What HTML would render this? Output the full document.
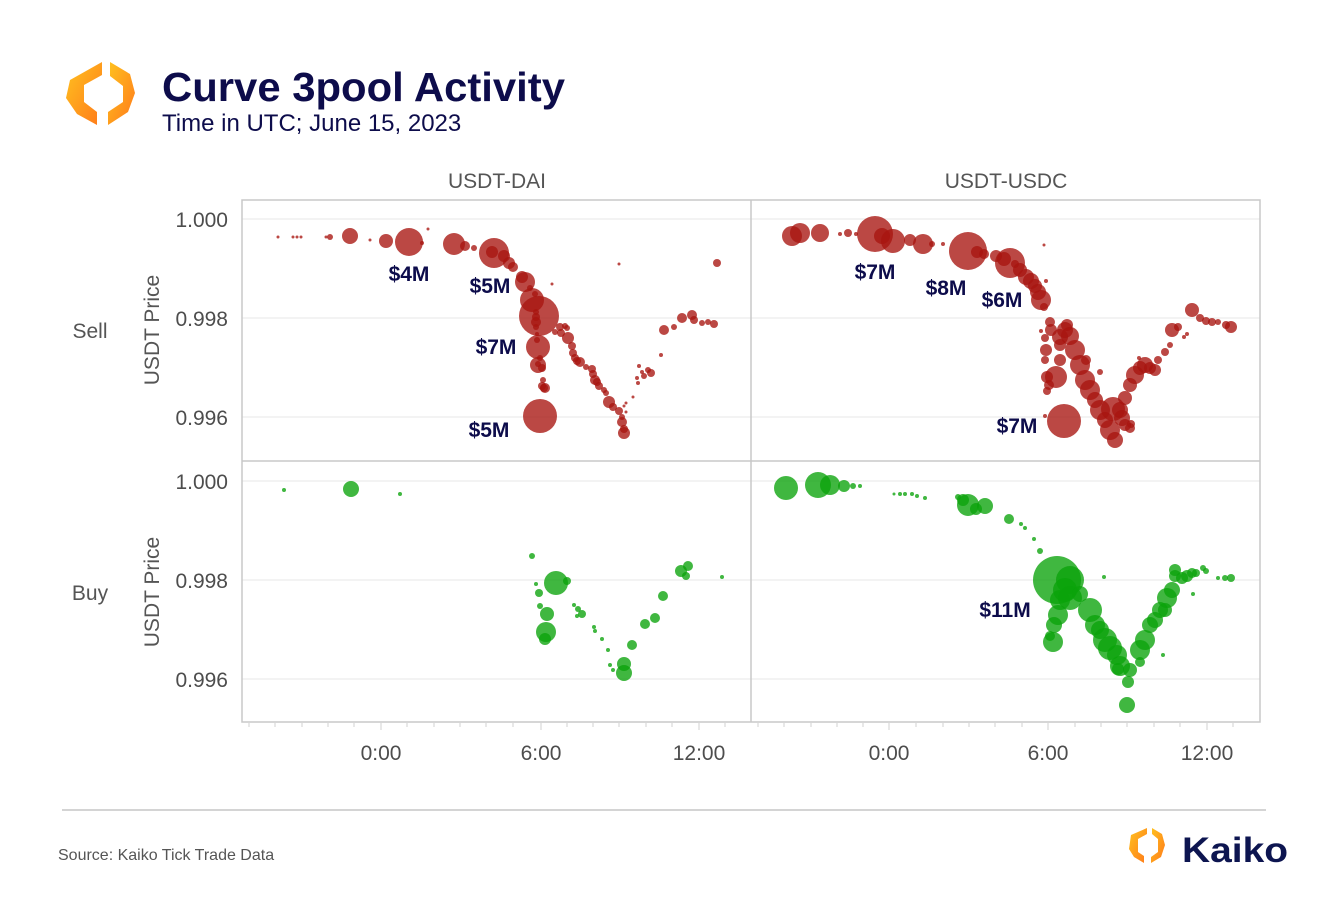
<!DOCTYPE html>
<html><head><meta charset="utf-8"><style>
html,body{margin:0;padding:0;background:#fff;}
svg{display:block;font-family:"Liberation Sans",sans-serif;}
</style></head><body>
<svg width="1320" height="920" viewBox="0 0 1320 920" xmlns="http://www.w3.org/2000/svg">
<defs>
<linearGradient id="lg" x1="0" y1="0" x2="1" y2="1"><stop offset="0" stop-color="#ffc21f"/><stop offset="1" stop-color="#ff7a1a"/></linearGradient>
</defs>
<!-- logo -->
<polygon points="102,62 102,75 84,85 84,102 97,112 97,125 77,114 66,98 70,80" fill="url(#lg)"/>
<polygon points="110,62 130,74 135,93 128,112 108,125 108,112 123,102 123,86 110,76" fill="url(#lg)"/>
<text x="162" y="101" font-size="41" font-weight="bold" fill="#0d0c4b" textLength="403" lengthAdjust="spacingAndGlyphs">Curve 3pool Activity</text>
<text x="162" y="131" font-size="24" fill="#0d0c4b">Time in UTC; June 15, 2023</text>

<!-- strip labels -->
<text x="497" y="188" font-size="21" fill="#555" text-anchor="middle">USDT-DAI</text>
<text x="1006" y="188" font-size="21" fill="#555" text-anchor="middle">USDT-USDC</text>
<text x="90" y="338" font-size="21" fill="#555" text-anchor="middle">Sell</text>
<text x="90" y="600" font-size="21" fill="#555" text-anchor="middle">Buy</text>
<text transform="translate(159,330) rotate(-90)" font-size="21" fill="#555" text-anchor="middle">USDT Price</text>
<text transform="translate(159,592) rotate(-90)" font-size="21" fill="#555" text-anchor="middle">USDT Price</text>

<!-- y tick labels -->
<g font-size="21" fill="#4d4d4d" text-anchor="end">
<text x="228" y="227">1.000</text><text x="228" y="326">0.998</text><text x="228" y="425">0.996</text>
<text x="228" y="489">1.000</text><text x="228" y="588">0.998</text><text x="228" y="687">0.996</text>
</g>
<!-- gridlines -->
<g stroke="#ececec" stroke-width="1.2">
<line x1="242" y1="219" x2="1260" y2="219"/><line x1="242" y1="318" x2="1260" y2="318"/><line x1="242" y1="417" x2="1260" y2="417"/>
<line x1="242" y1="481" x2="1260" y2="481"/><line x1="242" y1="580" x2="1260" y2="580"/><line x1="242" y1="679" x2="1260" y2="679"/>
</g>
<!-- x ticks -->
<g stroke="#d0d0d0" stroke-width="1">
<line x1="249" y1="723" x2="249" y2="727"/><line x1="275" y1="723" x2="275" y2="727"/><line x1="302" y1="723" x2="302" y2="727"/><line x1="328" y1="723" x2="328" y2="727"/><line x1="354" y1="723" x2="354" y2="727"/>
<line x1="407" y1="723" x2="407" y2="727"/><line x1="434" y1="723" x2="434" y2="727"/><line x1="460" y1="723" x2="460" y2="727"/><line x1="486" y1="723" x2="486" y2="727"/><line x1="513" y1="723" x2="513" y2="727"/>
<line x1="567" y1="723" x2="567" y2="727"/><line x1="593" y1="723" x2="593" y2="727"/><line x1="619" y1="723" x2="619" y2="727"/><line x1="646" y1="723" x2="646" y2="727"/><line x1="672" y1="723" x2="672" y2="727"/>
<line x1="725" y1="723" x2="725" y2="727"/>
<line x1="758" y1="723" x2="758" y2="727"/><line x1="784" y1="723" x2="784" y2="727"/><line x1="811" y1="723" x2="811" y2="727"/><line x1="837" y1="723" x2="837" y2="727"/><line x1="863" y1="723" x2="863" y2="727"/>
<line x1="916" y1="723" x2="916" y2="727"/><line x1="943" y1="723" x2="943" y2="727"/><line x1="969" y1="723" x2="969" y2="727"/><line x1="995" y1="723" x2="995" y2="727"/><line x1="1022" y1="723" x2="1022" y2="727"/>
<line x1="1075" y1="723" x2="1075" y2="727"/><line x1="1101" y1="723" x2="1101" y2="727"/><line x1="1127" y1="723" x2="1127" y2="727"/><line x1="1154" y1="723" x2="1154" y2="727"/><line x1="1180" y1="723" x2="1180" y2="727"/>
<line x1="1233" y1="723" x2="1233" y2="727"/>
<line x1="381" y1="723" x2="381" y2="730"/><line x1="541" y1="723" x2="541" y2="730"/><line x1="699" y1="723" x2="699" y2="730"/>
<line x1="889" y1="723" x2="889" y2="730"/><line x1="1048" y1="723" x2="1048" y2="730"/><line x1="1207" y1="723" x2="1207" y2="730"/>
</g>
<g font-size="21" fill="#4d4d4d" text-anchor="middle">
<text x="381" y="760">0:00</text><text x="541" y="760">6:00</text><text x="699" y="760">12:00</text>
<text x="889" y="760">0:00</text><text x="1048" y="760">6:00</text><text x="1207" y="760">12:00</text>
</g>

<!-- red points -->
<g fill="#a8150f" fill-opacity="0.78">
<circle cx="278" cy="237" r="1.5"/><circle cx="293" cy="237" r="1.5"/><circle cx="297" cy="237" r="1.5"/><circle cx="301" cy="237" r="1.5"/><circle cx="326" cy="237" r="1.5"/><circle cx="330" cy="237" r="3"/><circle cx="350" cy="236" r="8"/><circle cx="370" cy="240" r="1.5"/><circle cx="386" cy="241" r="7"/><circle cx="409" cy="242" r="14"/><circle cx="428" cy="229" r="1.5"/><circle cx="422" cy="243" r="2"/><circle cx="454" cy="244" r="11"/><circle cx="465" cy="246" r="5"/><circle cx="474" cy="248" r="3"/><circle cx="494" cy="253" r="15"/><circle cx="492" cy="252" r="6"/><circle cx="504" cy="256" r="6"/><circle cx="509" cy="263" r="6"/><circle cx="513" cy="267" r="5"/><circle cx="522" cy="277" r="6"/><circle cx="525" cy="282" r="10"/><circle cx="530" cy="288" r="3"/><circle cx="532" cy="300" r="12"/><circle cx="539" cy="316" r="20"/><circle cx="536" cy="317" r="4"/><circle cx="535" cy="294" r="3"/><circle cx="536" cy="312" r="3"/><circle cx="536" cy="322" r="5"/><circle cx="536" cy="327" r="3"/><circle cx="537" cy="334" r="2"/><circle cx="538" cy="347" r="12"/><circle cx="537" cy="340" r="3"/><circle cx="538" cy="364" r="3"/><circle cx="540" cy="358" r="3"/><circle cx="538" cy="365" r="8"/><circle cx="542" cy="368" r="4"/><circle cx="543" cy="380" r="3"/><circle cx="542" cy="386" r="4"/><circle cx="544" cy="388" r="4"/><circle cx="545" cy="388" r="5"/><circle cx="540" cy="416" r="17"/><circle cx="561" cy="333" r="4"/><circle cx="560" cy="327" r="4"/><circle cx="565" cy="326" r="3"/><circle cx="567" cy="328" r="3"/><circle cx="555" cy="332" r="3"/><circle cx="568" cy="338" r="6"/><circle cx="572" cy="346" r="4"/><circle cx="573" cy="353" r="4"/><circle cx="575" cy="358" r="4"/><circle cx="577" cy="361" r="4"/><circle cx="580" cy="362" r="5"/><circle cx="586" cy="367" r="3"/><circle cx="592" cy="369" r="4"/><circle cx="593" cy="374" r="4"/><circle cx="595" cy="380" r="5"/><circle cx="597" cy="382" r="4"/><circle cx="599" cy="386" r="4"/><circle cx="604" cy="390" r="3"/><circle cx="606" cy="393" r="3"/><circle cx="609" cy="402" r="6"/><circle cx="613" cy="407" r="4"/><circle cx="619" cy="411" r="4"/><circle cx="622" cy="417" r="3"/><circle cx="622" cy="422" r="5"/><circle cx="624" cy="429" r="4"/><circle cx="624" cy="433" r="6"/><circle cx="626" cy="403" r="1.5"/><circle cx="626" cy="412" r="1.5"/><circle cx="624" cy="406" r="1.5"/><circle cx="633" cy="397" r="1.5"/><circle cx="637" cy="378" r="2"/><circle cx="638" cy="383" r="2"/><circle cx="639" cy="366" r="2"/><circle cx="642" cy="372" r="2"/><circle cx="644" cy="376" r="3"/><circle cx="648" cy="370" r="3"/><circle cx="651" cy="373" r="4"/><circle cx="661" cy="355" r="2"/><circle cx="664" cy="330" r="5"/><circle cx="674" cy="327" r="3"/><circle cx="682" cy="318" r="5"/><circle cx="692" cy="315" r="5"/><circle cx="694" cy="320" r="4"/><circle cx="702" cy="323" r="3"/><circle cx="708" cy="322" r="3"/><circle cx="714" cy="324" r="4"/><circle cx="619" cy="264" r="1.5"/><circle cx="552" cy="284" r="1.5"/><circle cx="717" cy="263" r="4"/>
<circle cx="792" cy="236" r="10"/><circle cx="800" cy="233" r="10"/><circle cx="820" cy="233" r="9"/><circle cx="840" cy="234" r="2"/><circle cx="848" cy="233" r="4"/><circle cx="856" cy="234" r="2"/><circle cx="875" cy="234" r="18"/><circle cx="882" cy="236" r="8"/><circle cx="893" cy="241" r="12"/><circle cx="910" cy="240" r="6"/><circle cx="923" cy="244" r="10"/><circle cx="932" cy="244" r="3"/><circle cx="943" cy="244" r="2"/><circle cx="968" cy="251" r="19"/><circle cx="977" cy="252" r="6"/><circle cx="984" cy="254" r="5"/><circle cx="996" cy="256" r="6"/><circle cx="1004" cy="259" r="7"/><circle cx="1010" cy="263" r="15"/><circle cx="1015" cy="264" r="4"/><circle cx="1020" cy="270" r="7"/><circle cx="1026" cy="277" r="8"/><circle cx="1031" cy="281" r="8"/><circle cx="1035" cy="286" r="7"/><circle cx="1038" cy="292" r="8"/><circle cx="1041" cy="300" r="10"/><circle cx="1044" cy="307" r="4"/><circle cx="1044" cy="245" r="1.5"/><circle cx="1046" cy="281" r="2"/><circle cx="1041" cy="331" r="2"/><circle cx="1050" cy="322" r="5"/><circle cx="1051" cy="330" r="6"/><circle cx="1045" cy="338" r="4"/><circle cx="1046" cy="350" r="6"/><circle cx="1045" cy="360" r="4"/><circle cx="1047" cy="377" r="6"/><circle cx="1049" cy="385" r="5"/><circle cx="1047" cy="391" r="4"/><circle cx="1056" cy="377" r="11"/><circle cx="1060" cy="360" r="6"/><circle cx="1060" cy="345" r="6"/><circle cx="1060" cy="337" r="8"/><circle cx="1065" cy="330" r="8"/><circle cx="1067" cy="325" r="6"/><circle cx="1070" cy="336" r="9"/><circle cx="1075" cy="350" r="10"/><circle cx="1080" cy="365" r="10"/><circle cx="1085" cy="380" r="10"/><circle cx="1090" cy="390" r="10"/><circle cx="1095" cy="400" r="8"/><circle cx="1100" cy="410" r="10"/><circle cx="1105" cy="420" r="8"/><circle cx="1110" cy="430" r="10"/><circle cx="1115" cy="440" r="8"/><circle cx="1120" cy="410" r="8"/><circle cx="1122" cy="418" r="8"/><circle cx="1125" cy="425" r="6"/><circle cx="1130" cy="428" r="5"/><circle cx="1131" cy="424" r="4"/><circle cx="1100" cy="372" r="3"/><circle cx="1113" cy="409" r="12"/><circle cx="1125" cy="398" r="7"/><circle cx="1130" cy="385" r="7"/><circle cx="1135" cy="375" r="9"/><circle cx="1140" cy="368" r="7"/><circle cx="1145" cy="365" r="8"/><circle cx="1150" cy="368" r="6"/><circle cx="1155" cy="370" r="6"/><circle cx="1158" cy="360" r="4"/><circle cx="1165" cy="352" r="4"/><circle cx="1170" cy="345" r="3"/><circle cx="1172" cy="330" r="7"/><circle cx="1178" cy="327" r="4"/><circle cx="1184" cy="337" r="2"/><circle cx="1187" cy="334" r="2"/><circle cx="1192" cy="310" r="7"/><circle cx="1200" cy="318" r="4"/><circle cx="1206" cy="321" r="4"/><circle cx="1212" cy="322" r="4"/><circle cx="1218" cy="322" r="3"/><circle cx="1226" cy="325" r="4"/><circle cx="1231" cy="327" r="6"/><circle cx="1139" cy="358" r="2"/><circle cx="1064" cy="421" r="17"/><circle cx="1045" cy="416" r="2"/><circle cx="1086" cy="360" r="5"/>
</g>
<!-- green points -->
<g fill="#0aa30a" fill-opacity="0.78">
<circle cx="284" cy="490" r="2"/><circle cx="351" cy="489" r="8"/><circle cx="400" cy="494" r="2"/><circle cx="532" cy="556" r="3"/><circle cx="556" cy="583" r="12"/><circle cx="567" cy="581" r="4"/><circle cx="536" cy="584" r="2"/><circle cx="539" cy="593" r="4"/><circle cx="540" cy="606" r="3"/><circle cx="547" cy="614" r="7"/><circle cx="546" cy="632" r="10"/><circle cx="545" cy="639" r="6"/><circle cx="574" cy="605" r="2"/><circle cx="578" cy="609" r="3"/><circle cx="582" cy="614" r="4"/><circle cx="577" cy="616" r="2"/><circle cx="594" cy="627" r="2"/><circle cx="595" cy="631" r="2"/><circle cx="602" cy="639" r="2"/><circle cx="608" cy="650" r="2"/><circle cx="624" cy="664" r="7"/><circle cx="624" cy="673" r="8"/><circle cx="632" cy="645" r="5"/><circle cx="645" cy="624" r="5"/><circle cx="655" cy="618" r="5"/><circle cx="663" cy="596" r="5"/><circle cx="681" cy="571" r="6"/><circle cx="688" cy="566" r="5"/><circle cx="686" cy="576" r="4"/><circle cx="722" cy="577" r="2"/><circle cx="610" cy="665" r="2"/><circle cx="613" cy="670" r="2"/>
<circle cx="786" cy="488" r="12"/><circle cx="818" cy="485" r="13"/><circle cx="830" cy="485" r="10"/><circle cx="844" cy="486" r="6"/><circle cx="853" cy="486" r="3"/><circle cx="860" cy="486" r="2"/><circle cx="894" cy="494" r="1.5"/><circle cx="900" cy="494" r="2"/><circle cx="905" cy="494" r="2"/><circle cx="912" cy="494" r="2"/><circle cx="917" cy="496" r="2"/><circle cx="925" cy="498" r="2"/><circle cx="958" cy="497" r="3"/><circle cx="963" cy="500" r="6"/><circle cx="968" cy="505" r="11"/><circle cx="976" cy="509" r="6"/><circle cx="985" cy="506" r="8"/><circle cx="1009" cy="519" r="5"/><circle cx="1021" cy="524" r="2"/><circle cx="1025" cy="528" r="2"/><circle cx="1034" cy="539" r="2"/><circle cx="1040" cy="551" r="3"/><circle cx="1057" cy="580" r="24"/><circle cx="1070" cy="580" r="14"/><circle cx="1065" cy="590" r="12"/><circle cx="1060" cy="600" r="10"/><circle cx="1070" cy="598" r="12"/><circle cx="1080" cy="594" r="8"/><circle cx="1058" cy="615" r="10"/><circle cx="1054" cy="625" r="8"/><circle cx="1053" cy="642" r="10"/><circle cx="1050" cy="636" r="5"/><circle cx="1090" cy="610" r="12"/><circle cx="1095" cy="625" r="10"/><circle cx="1100" cy="630" r="9"/><circle cx="1105" cy="640" r="12"/><circle cx="1110" cy="648" r="12"/><circle cx="1117" cy="655" r="10"/><circle cx="1120" cy="666" r="10"/><circle cx="1130" cy="670" r="7"/><circle cx="1128" cy="682" r="6"/><circle cx="1118" cy="669" r="6"/><circle cx="1140" cy="650" r="10"/><circle cx="1145" cy="640" r="10"/><circle cx="1150" cy="625" r="8"/><circle cx="1155" cy="620" r="8"/><circle cx="1160" cy="610" r="8"/><circle cx="1165" cy="610" r="7"/><circle cx="1167" cy="598" r="10"/><circle cx="1172" cy="590" r="8"/><circle cx="1175" cy="576" r="6"/><circle cx="1182" cy="578" r="6"/><circle cx="1187" cy="576" r="6"/><circle cx="1192" cy="573" r="5"/><circle cx="1196" cy="573" r="4"/><circle cx="1175" cy="570" r="6"/><circle cx="1193" cy="594" r="2"/><circle cx="1163" cy="655" r="2"/><circle cx="1203" cy="568" r="3"/><circle cx="1206" cy="571" r="3"/><circle cx="1218" cy="578" r="2"/><circle cx="1225" cy="578" r="3"/><circle cx="1231" cy="578" r="4"/><circle cx="1127" cy="705" r="8"/><circle cx="1140" cy="662" r="5"/><circle cx="1104" cy="577" r="2"/>
</g>

<!-- panel borders -->
<g fill="none" stroke="#c8c8c8" stroke-width="1.5">
<rect x="242" y="200" width="1018" height="522"/>
<line x1="751" y1="200" x2="751" y2="722"/>
<line x1="242" y1="461" x2="1260" y2="461"/>
</g>

<!-- annotations -->
<g font-size="21" font-weight="bold" fill="#0d0c4b" text-anchor="middle">
<text x="409" y="281">$4M</text><text x="490" y="293">$5M</text><text x="496" y="354">$7M</text><text x="489" y="437">$5M</text>
<text x="875" y="279">$7M</text><text x="946" y="295">$8M</text><text x="1002" y="307">$6M</text><text x="1017" y="433">$7M</text>
<text x="1005" y="617">$11M</text>
</g>

<line x1="62" y1="810" x2="1266" y2="810" stroke="#bbb" stroke-width="1.2"/>
<text x="58" y="860" font-size="16" fill="#555">Source: Kaiko Tick Trade Data</text>
<!-- kaiko logo -->
<polygon points="1147,828 1147,834 1138,839 1138,852 1144,856 1144,863 1134,857 1129,849 1131,835" fill="url(#lg)"/>
<polygon points="1152,828 1162,834 1165,845 1161,857 1151,863 1151,857 1158,852 1158,839 1152,834" fill="url(#lg)"/>
<text x="1182" y="862" font-size="35" font-weight="bold" fill="#0d1550" textLength="106" lengthAdjust="spacingAndGlyphs">Kaiko</text>
</svg>
</body></html>
